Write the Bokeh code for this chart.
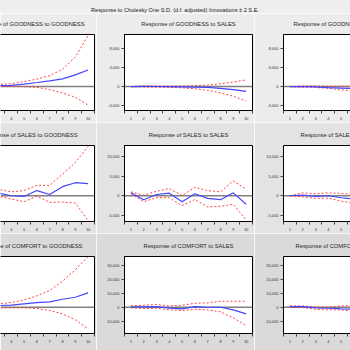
from bokeh.plotting import figure
from bokeh.models import Range1d, FixedTicker, LinearAxis, Span, Title, NumeralTickFormatter, Div
from bokeh.layouts import column, row
from bokeh.embed import file_html
from bokeh.resources import INLINE

# ---------------- data ----------------
periods = [1, 2, 3, 4, 5, 6, 7, 8, 9, 10]
variables = ["GOODNESS", "SALES", "COMFORT"]
main_title = "Response to Cholesky One S.D. (d.f. adjusted) Innovations \u00b1 2 S.E."

# Response of GOODNESS to ...
good_good = [400, 300, 200, 250, 540, 870, 1230, 1640, 2470, 3510]
good_good_hi = [900, 700, 420, 600, 1090, 1580, 2330, 3650, 6280, 10780]
good_good_lo = [-100, -50, 0, 40, -20, -160, -640, -1330, -2240, -3900]

good_sales = [0, 50, 20, -20, -60, -100, -170, -370, -640, -1000]
good_sales_hi = [0, 150, 150, 120, 120, 200, 330, 600, 950, 1430]
good_sales_lo = [0, -100, -120, -150, -250, -450, -790, -1330, -2030, -3075]

good_comf = [0, 20, -50, -200, -300, -400, -450, -600, -800, -1000]
good_comf_hi = [0, 150, 120, 100, 80, 50, 0, -50, -100, -150]
good_comf_lo = [0, -120, -180, -350, -700, -850, -1000, -1200, -1400, -1800]

# Response of SALES to ...
sales_good = [400, 900, 700, 0, -175, 1325, 325, 2325, 3325, 3075]
sales_good_hi = [1500, 2200, 1650, 1000, 1325, 2650, 2650, 5500, 8400, 12600]
sales_good_lo = [-700, -400, -100, -850, -1500, -100, -1675, -1600, -1850, -6350]

sales_sales = [750, -1000, 325, 650, -1500, 500, -675, -1000, 750, -2175]
sales_sales_hi = [1000, 150, 1150, 1825, 75, 2150, 1325, 1000, 3825, 1650]
sales_sales_lo = [500, -1500, -500, -500, -2500, -925, -2850, -2675, -2175, -6175]

sales_comf = [0, 200, -150, 0, -500, -800, -900, -1000, -1100, -1200]
sales_comf_hi = [0, 750, 500, 750, 575, 400, 300, 200, 100, 0]
sales_comf_lo = [0, -250, -675, -600, -1350, -1900, -2300, -2700, -3100, -3500]

# Response of COMFORT to ...
comf_good = [500, 800, 1200, 1460, 2420, 3380, 3880, 5760, 7200, 10350]
comf_good_hi = [2000, 2200, 2400, 3380, 5300, 8200, 12000, 18700, 26900, 36500]
comf_good_lo = [-1000, -600, -450, -450, -450, -940, -2370, -4750, -9100, -15500]

comf_sales = [300, 300, 500, -700, -1150, 500, 0, 0, -1900, -4750]
comf_sales_hi = [1000, 1440, 1940, 1000, 1440, 2880, 3160, 4300, 4300, 4300]
comf_sales_lo = [-430, -940, -700, -1870, -2370, -1440, -1900, -3300, -7600, -13200]

comf_comf = [480, 480, -480, -720, -1200, -1500, -1800, -2100, -2400, -2700]
comf_comf_hi = [960, 960, 0, 0, 960, 1200, 1400, 1600, 1800, 2000]
comf_comf_lo = [0, -240, -1440, -1900, -1900, -3000, -4000, -5000, -6000, -7000]

y_ticks_rows = [[-4000, 0, 4000, 8000],
                [-5000, 0, 5000, 10000],
                [-10000, 0, 10000, 20000, 30000]]
y_limits_rows = [(-5040, 11000), (-6550, 12800), (-18900, 36500)]

series = [
    [(good_good, good_good_hi, good_good_lo), (good_sales, good_sales_hi, good_sales_lo), (good_comf, good_comf_hi, good_comf_lo)],
    [(sales_good, sales_good_hi, sales_good_lo), (sales_sales, sales_sales_hi, sales_sales_lo), (sales_comf, sales_comf_hi, sales_comf_lo)],
    [(comf_good, comf_good_hi, comf_good_lo), (comf_sales, comf_sales_hi, comf_sales_lo), (comf_comf, comf_comf_hi, comf_comf_lo)],
]

# ---------------- layout / style ----------------
FONT = "Liberation Sans"
BLUE = "#4444ff"
RED = "#ff4444"
UNIT = 12.8                      # px per period
x_lo, x_hi = periods[0] - 0.5, periods[-1] + 0.5
frame_w = [94, 128, 67]
col_w = [96, 158, 96]
border_l = [0, 28, 29]
border_r = [2, 2, 0]
row_h = [109, 111, 117]
border_t = [21, 23, 23]
border_b = [11, 11, 17]
row_bg = ["#ececec", "#e3e3e3", "#dadada"]
title_offset = [10, 17, 12]
x_ranges = [(x_hi - frame_w[0] / UNIT, x_hi), (x_lo, x_hi), (x_lo, x_lo + frame_w[2] / UNIT)]


def blank_axis():
    return LinearAxis(ticker=FixedTicker(ticks=[]), major_tick_out=0, major_tick_in=0,
                      minor_tick_out=0, minor_tick_in=0, major_label_text_font_size="0px",
                      major_label_standoff=0,
                      axis_line_color="black", axis_line_width=1)


rows = []
for r in range(3):
    figs = []
    for c in range(3):
        p = figure(width=col_w[c], height=row_h[r], output_backend="svg", toolbar_location=None,
                   x_range=Range1d(*x_ranges[c]), y_range=Range1d(*y_limits_rows[r]),
                   y_axis_location=("right" if c == 0 else "left"),
                   min_border_left=border_l[c], min_border_right=border_r[c],
                   min_border_top=border_t[r], min_border_bottom=border_b[r])
        p.background_fill_color = "white"
        p.border_fill_color = row_bg[r]
        p.grid.visible = False
        p.outline_line_color = "black" if c == 1 else None

        # x axis: labels at periods, tick marks between them
        xa = p.xaxis[0]
        xa.ticker = FixedTicker(ticks=periods, minor_ticks=[v + 0.5 for v in [periods[0] - 1] + periods])
        xa.major_tick_out = 0
        xa.major_tick_in = 0
        xa.minor_tick_out = 3
        xa.minor_tick_in = 0
        xa.major_label_standoff = 3
        xa.major_label_text_font_size = "4px"
        xa.major_label_text_font = FONT
        xa.major_label_text_color = "#333333"
        xa.axis_line_color = "black"
        xa.minor_tick_line_color = "#444444"

        ya = p.yaxis[0]
        if c == 0:
            ya.ticker = FixedTicker(ticks=[])
            ya.major_tick_out = 0
            ya.major_tick_in = 0
            ya.minor_tick_out = 0
            ya.minor_tick_in = 0
            ya.major_label_text_font_size = "0px"
            ya.axis_line_color = "black"
        else:
            ya.ticker = FixedTicker(ticks=y_ticks_rows[r])
            ya.formatter = NumeralTickFormatter(format="0,0")
            ya.major_tick_out = 3
            ya.major_tick_in = 0
            ya.minor_tick_out = 0
            ya.minor_tick_in = 0
            ya.major_label_standoff = 2
            ya.major_label_text_font_size = "4px"
            ya.major_label_text_font = FONT
            ya.major_label_text_color = "#333333"
            ya.axis_line_color = "black"
            ya.major_tick_line_color = "#444444"
        if c != 1:
            p.add_layout(blank_axis(), "above")

        align = ["right", "center", "left"][c]
        p.add_layout(Title(text=f"Response of {variables[r]} to {variables[c]}",
                           align=align, offset=(0 if c == 1 else title_offset[r]),
                           vertical_align="top", standoff=12,
                           text_font=FONT, text_font_size="5.8px", text_font_style="normal",
                           text_color="#262626"), "above")

        p.add_layout(Span(location=0, dimension="width", line_color="#808080",
                          line_width=1.5, level="underlay"))

        resp, hi, lo = series[r][c]
        p.line(periods, hi, line_color=RED, line_width=1, line_dash="2 2")
        p.line(periods, lo, line_color=RED, line_width=1, line_dash="2 2")
        p.line(periods, resp, line_color=BLUE, line_width=1.2)
        figs.append(p)
    rows.append(row(*figs))

header = Div(width=350, height=13, margin=0,
             styles={"background-color": "#eeeeee", "overflow": "hidden"},
             text=(f'<div style="width:324px; padding-left:26px; padding-top:5px; text-align:center; '
                   f'font-size:5.6px; line-height:8px; font-family:\'{FONT}\'; color:#1a1a1a; '
                   f'white-space:nowrap; background-color:#eeeeee;">{main_title}</div>'))

p = column(header, *rows)
open("out.html", "w", encoding="utf-8").write(file_html(p, INLINE))
